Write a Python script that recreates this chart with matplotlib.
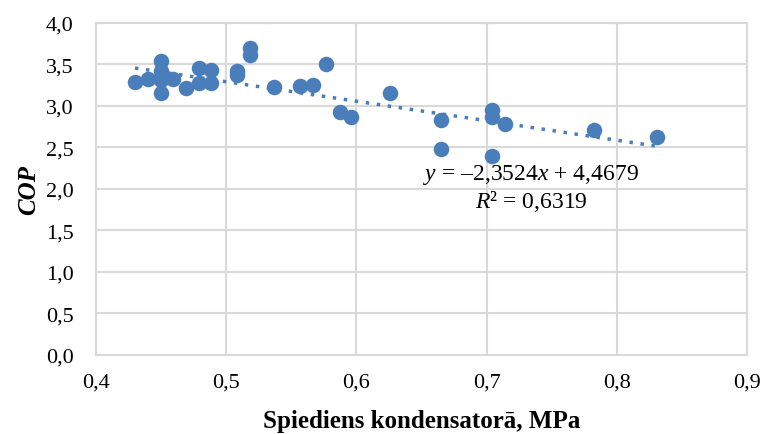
import matplotlib
matplotlib.use('Agg')
import numpy as np
import matplotlib.pyplot as plt
import matplotlib.ticker as mtick

# condenser pressure (MPa) and COP
pressure = [0.430, 0.440, 0.450, 0.450, 0.450, 0.450, 0.459, 0.469, 0.479, 0.479,
            0.488, 0.488, 0.508, 0.508, 0.518, 0.518, 0.537, 0.557, 0.567, 0.577,
            0.587, 0.596, 0.626, 0.665, 0.665, 0.704, 0.704, 0.704, 0.714, 0.782, 0.831]
cop = [3.29, 3.32, 3.54, 3.42, 3.31, 3.16, 3.32, 3.21, 3.46, 3.27,
       3.43, 3.27, 3.42, 3.37, 3.70, 3.61, 3.23, 3.24, 3.25, 3.51,
       2.93, 2.87, 3.15, 2.83, 2.48, 2.95, 2.87, 2.40, 2.78, 2.71, 2.62]

slope = -2.3524
intercept = 4.4679
r2 = 0.6319

plt.rcParams['font.family'] = ['Liberation Serif', 'DejaVu Serif']
plt.rcParams['mathtext.fontset'] = 'custom'
plt.rcParams['mathtext.rm'] = 'Liberation Serif'
plt.rcParams['mathtext.it'] = 'Liberation Serif:italic'

blue = '#4a7ebb'
grid = '#d9d9d9'

fig = plt.figure(figsize=(7.61, 4.35), dpi=100)
ax = fig.add_axes([0.126, 0.182, 0.856, 0.763])

ax.scatter(pressure, cop, s=125, color=blue, zorder=3, linewidths=0)

xt = np.array([min(pressure), max(pressure)])
ax.plot(xt, slope * xt + intercept, color=blue, linestyle=(0, (1, 2.2)),
        linewidth=2.5, zorder=2)

ax.set_xlim(0.4, 0.9)
ax.set_ylim(0, 4.0)
ax.set_xticks(np.arange(0.4, 0.91, 0.1))
ax.set_yticks(np.arange(0, 4.01, 0.5))
comma = mtick.FuncFormatter(lambda v, p: ('%.1f' % v).replace('.', ','))
ax.xaxis.set_major_formatter(comma)
ax.yaxis.set_major_formatter(comma)
ax.tick_params(length=0, labelsize=16)
ax.tick_params(axis='y', pad=16)
ax.tick_params(axis='x', pad=13)

ax.grid(True, color=grid, linewidth=1.5)
ax.set_axisbelow(True)
for s in ax.spines.values():
    s.set_color(grid)
    s.set_linewidth(1.5)

ax.set_xlabel('Spiediens kondensatorā, MPa', fontsize=18, fontweight='bold', labelpad=12)
ax.set_ylabel('COP', fontsize=18, fontweight='bold', fontstyle='italic', labelpad=4)

ax.text(0.734, 2.18, '$y$ = –2,3524$x$ + 4,4679', fontsize=17, ha='center', va='center')
ax.text(0.734, 1.855, '$R²$ = 0,6319', fontsize=17, ha='center', va='center')

plt.savefig('out.png', dpi=100)
